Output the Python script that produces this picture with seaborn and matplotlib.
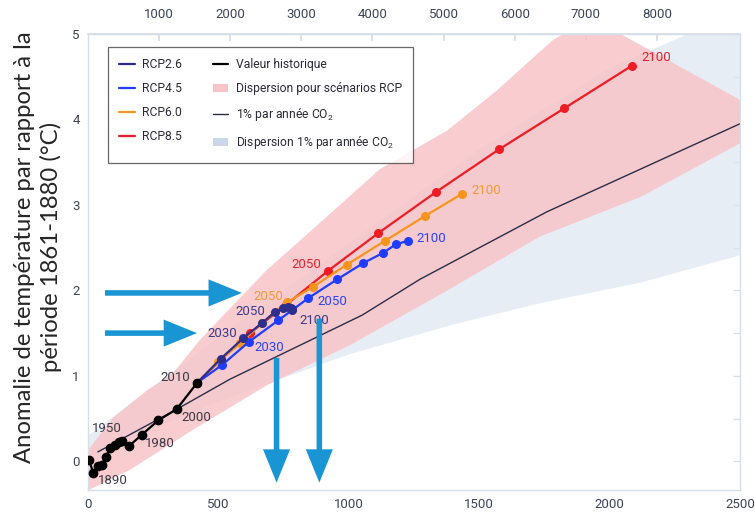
import pandas as pd
import seaborn as sns
import matplotlib.pyplot as plt
from matplotlib.lines import Line2D
from matplotlib.patches import Patch
from matplotlib.ticker import MultipleLocator, FixedLocator

# Historical values: cumulative emissions (GtC) vs temperature anomaly (°C)
hist_years = [1880, 1890, 1900, 1910, 1920, 1930, 1940, 1950, 1960, 1970, 1980, 1990, 2000, 2010]
hist_gtc = [4, 20, 39, 53, 68, 84, 104, 120, 129, 158, 206, 270, 340, 419]
hist_temp = [0.02, -0.14, -0.05, -0.04, 0.05, 0.15, 0.19, 0.23, 0.24, 0.18, 0.31, 0.48, 0.61, 0.92]

# RCP scenarios, one point per decade 2010-2100
rcp_years = [2010, 2020, 2030, 2040, 2050, 2060, 2070, 2080, 2090, 2100]
rcp26_gtc = [419, 509, 595, 668, 718, 749, 768, 778, 784, 782]
rcp26_temp = [0.92, 1.20, 1.44, 1.62, 1.75, 1.79, 1.80, 1.79, 1.78, 1.77]
rcp45_gtc = [419, 515, 618, 730, 845, 956, 1056, 1132, 1181, 1228]
rcp45_temp = [0.92, 1.13, 1.40, 1.65, 1.91, 2.13, 2.32, 2.44, 2.54, 2.58]
rcp60_gtc = [419, 498, 583, 667, 763, 862, 992, 1139, 1292, 1434]
rcp60_temp = [0.92, 1.16, 1.38, 1.62, 1.86, 2.04, 2.30, 2.58, 2.87, 3.13]
rcp85_gtc = [419, 510, 621, 759, 921, 1113, 1334, 1576, 1826, 2086]
rcp85_temp = [0.92, 1.19, 1.50, 1.83, 2.23, 2.67, 3.15, 3.65, 4.13, 4.63]

# 1% per year CO2 experiment
co2_gtc = [38, 341, 544, 1051, 1273, 1760, 2500]
co2_temp = [0.11, 0.61, 0.96, 1.71, 2.13, 2.92, 3.95]

# dispersion bands (upper / lower edges)
rcp_hi_gtc = [0, 96, 226, 326, 429, 686, 775, 1120, 1377, 1568, 1695, 1783, 1880, 2030, 2500]
rcp_hi_temp = [0.13, 0.51, 0.83, 1.03, 1.42, 2.24, 2.48, 3.42, 3.87, 4.34, 4.69, 4.93, 5.1, 5.02, 4.23]
rcp_lo_gtc = [0, 161, 403, 686, 1005, 1350, 1733, 2117, 2500]
rcp_lo_temp = [-0.34, -0.10, 0.37, 0.89, 1.36, 1.95, 2.63, 3.09, 3.72]
co2_hi_gtc = [0, 500, 1000, 1500, 2000, 2300, 2500]
co2_hi_temp = [0.3, 1.45, 2.55, 3.65, 4.6, 5.0, 5.3]
co2_lo_gtc = [0, 500, 1000, 1400, 1733, 2117, 2500]
co2_lo_temp = [0.05, 0.7, 1.25, 1.6, 1.85, 2.09, 2.41]

# year labels: (year, dx, dy in pixels, alignment)
hist_labels = [(1890, 5, -7, "left"), (1950, -12, 13, "center"), (1980, 18, -9, "center"),
               (2000, 20, -8, "center"), (2010, -22, 5, "center")]
rcp_labels = {
    "RCP2.6": [(2030, -21, 5), (2050, -25, 0), (2100, 22, -10)],
    "RCP4.5": [(2030, 20, -6), (2050, 24, -3), (2100, 23, 2)],
    "RCP6.0": [(2050, -19, 6), (2100, 24, 3)],
    "RCP8.5": [(2050, -22, 6), (2100, 24, 8)],
}

# arrows (start, end) in data units
arrows = [((65, 1.97), (590, 1.97)), ((65, 1.50), (418, 1.50)),
          ((723, 1.21), (723, -0.25)), ((887, 1.67), (887, -0.25))]

colors = {"RCP2.6": "#2e2f8c", "RCP4.5": "#1f3cff", "RCP6.0": "#f7941d", "RCP8.5": "#ee1c25"}
label_colors = {"RCP2.6": "#3b3a8a", "RCP4.5": "#2b44f5", "RCP6.0": "#f39a35", "RCP8.5": "#e8202a"}
pink = "#f8c4c8"
lightblue = "#dfe8f2"
arrow_col = "#1a95d3"

sns.set_theme(style="white")
plt.rcParams["font.family"] = ["Roboto", "DejaVu Sans"]
plt.rcParams["mathtext.default"] = "regular"

fig = plt.figure(figsize=(7.55, 5.16), dpi=100)
ax = fig.add_axes([88 / 755, 1 - 490 / 516, 652 / 755, 456 / 516])

# bands
ax.fill(co2_hi_gtc + co2_lo_gtc[::-1], co2_hi_temp + co2_lo_temp[::-1],
        color=lightblue, lw=0, alpha=0.75, zorder=1)
ax.fill(rcp_hi_gtc + rcp_lo_gtc[::-1], rcp_hi_temp + rcp_lo_temp[::-1],
        color=pink, lw=0, alpha=0.85, zorder=1)

# 1% line
co2_df = pd.DataFrame({"gtc": co2_gtc, "temp": co2_temp})
sns.lineplot(data=co2_df, x="gtc", y="temp", sort=False, color="#2a2d48", lw=1.0, ax=ax, zorder=2)

rcp_data = {
    "RCP8.5": (rcp85_gtc, rcp85_temp),
    "RCP6.0": (rcp60_gtc, rcp60_temp),
    "RCP4.5": (rcp45_gtc, rcp45_temp),
    "RCP2.6": (rcp26_gtc, rcp26_temp),
}
for name, (gx, gy) in rcp_data.items():
    df = pd.DataFrame({"gtc": gx, "temp": gy, "year": rcp_years})
    sns.lineplot(data=df, x="gtc", y="temp", sort=False, color=colors[name], lw=1.6,
                 marker="o", markersize=6.5, markeredgewidth=0, ax=ax, zorder=3)
    for yr, dx, dy in rcp_labels[name]:
        i = rcp_years.index(yr)
        ax.annotate(str(yr), (gx[i], gy[i]), xytext=(dx, dy), textcoords="offset pixels",
                    ha="center", va="center", fontsize=9.5, color=label_colors[name], zorder=5)

hist_df = pd.DataFrame({"gtc": hist_gtc, "temp": hist_temp, "year": hist_years})
sns.lineplot(data=hist_df, x="gtc", y="temp", sort=False, color="black", lw=1.6,
             marker="o", markersize=7, markeredgewidth=0, ax=ax, zorder=4)
for yr, dx, dy, ha in hist_labels:
    i = hist_years.index(yr)
    ax.annotate(str(yr), (hist_gtc[i], hist_temp[i]), xytext=(dx, dy), textcoords="offset pixels",
                ha=ha, va="center", fontsize=9.5, color="#3a3a46", zorder=5)

for start, end in arrows:
    ax.annotate("", xy=end, xytext=start,
                arrowprops=dict(arrowstyle="simple,head_length=2.4,head_width=1.95,tail_width=0.4",
                                mutation_scale=10, color=arrow_col, lw=0, shrinkA=0, shrinkB=0),
                zorder=6)

ax.set_xlim(0, 2500)
ax.set_ylim(-0.336, 5)
ax.xaxis.set_major_locator(MultipleLocator(500))
ax.yaxis.set_major_locator(MultipleLocator(1))
ax.yaxis.set_minor_locator(MultipleLocator(0.5))
ax.set_xlabel("")
ax.set_ylabel("")
fig.text(38 / 755, 1 - 247 / 516, "Anomalie de température par rapport à la\npériode 1861-1880 (°C)",
         rotation=90, ha="center", va="center", ma="center", fontsize=17.2, color="#262626",
         family=["Lato", "DejaVu Sans"], linespacing=1.22)

spine_col = "#d6dee8"
for s in ax.spines.values():
    s.set_color(spine_col)
    s.set_linewidth(1.0)
ax.tick_params(axis="both", which="both", direction="in", length=5, color=spine_col,
               labelcolor="#3d4356", labelsize=9.5, right=True, width=1)
ax.tick_params(axis="x", pad=6)
ax.tick_params(axis="y", pad=6)

top = ax.secondary_xaxis("top", functions=(lambda x: x * 3.667, lambda x: x / 3.667))
top.xaxis.set_major_locator(FixedLocator([1000, 2000, 3000, 4000, 5000, 6000, 7000, 8000]))
top.tick_params(direction="in", length=5, color=spine_col, labelcolor="#3d4356",
                labelsize=9.5, pad=9)
top.spines["top"].set_color(spine_col)

handles = [
    Line2D([], [], color=colors["RCP2.6"], lw=1.6),
    Line2D([], [], color=colors["RCP4.5"], lw=1.6),
    Line2D([], [], color=colors["RCP6.0"], lw=1.6),
    Line2D([], [], color=colors["RCP8.5"], lw=1.6),
    Line2D([], [], color="black", lw=1.6),
    Patch(facecolor=pink, edgecolor="none"),
    Line2D([], [], color="#2a2d48", lw=1.0),
    Patch(facecolor="#c8d8ea", edgecolor="none"),
]
labels = ["RCP2.6", "RCP4.5", "RCP6.0", "RCP8.5", "Valeur historique",
          "Dispersion pour scénarios RCP", "1% par année CO$_2$", "Dispersion 1% par année CO$_2$"]
leg = ax.legend(handles, labels, ncol=2, loc="upper left", bbox_to_anchor=(0.0307, 0.9715),
                borderaxespad=0, fontsize=8.7, frameon=True, fancybox=False, labelspacing=0.9,
                handlelength=1.3, handleheight=0.7, handletextpad=0.6, columnspacing=2.5,
                borderpad=0.95, labelcolor="#2a2a35")
leg.get_frame().set_edgecolor("#444444")
leg.get_frame().set_linewidth(0.9)
leg.set_zorder(10)

fig.savefig("out.png", dpi=100)
